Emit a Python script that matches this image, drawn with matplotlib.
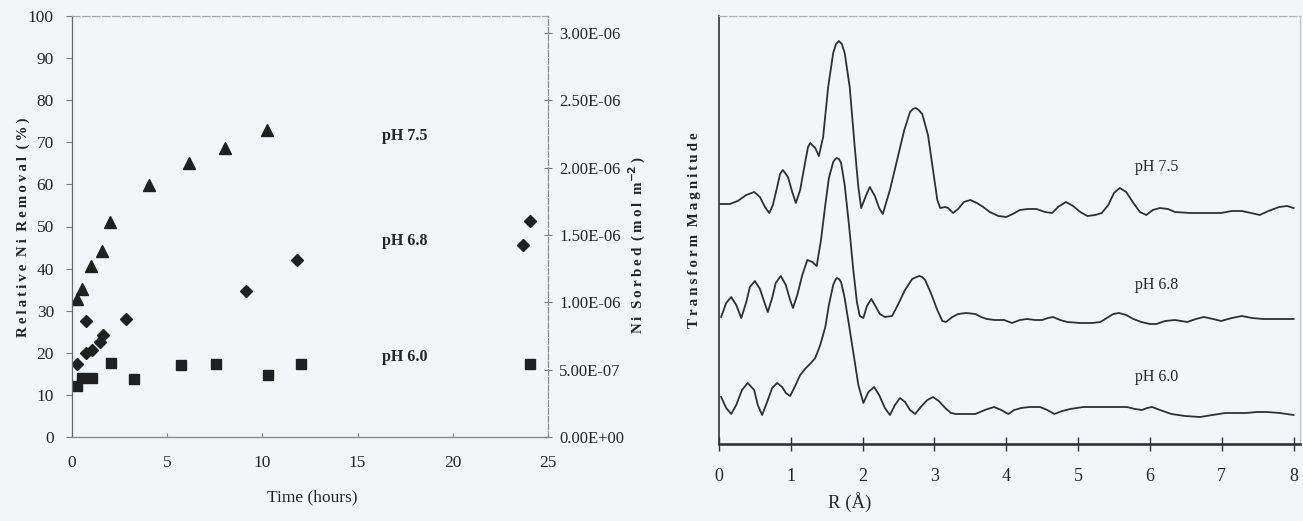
import matplotlib
matplotlib.use("Agg")
import matplotlib.pyplot as plt
from matplotlib.ticker import FormatStrFormatter

plt.rcParams['font.family'] = ['Liberation Serif', 'DejaVu Serif']

# ---------------- Left panel data (time in hours, relative Ni removal %) ----------------
t_ph75 = [0.27, 0.53, 1.0, 1.58, 2.0, 4.05, 6.15, 8.05, 10.25]
rem_ph75 = [32.8, 35.2, 40.6, 44.2, 51.1, 59.9, 65.1, 68.6, 72.9]

t_ph68 = [0.27, 0.72, 0.72, 1.05, 1.47, 1.65, 2.82, 9.15, 11.8, 23.7, 24.05]
rem_ph68 = [17.3, 27.6, 20.0, 20.7, 22.6, 24.2, 28.0, 34.7, 42.0, 45.6, 51.3]

t_ph60 = [0.27, 0.53, 1.05, 2.05, 3.26, 5.75, 7.58, 10.3, 12.05, 24.05]
rem_ph60 = [12.1, 14.0, 14.0, 17.6, 13.8, 17.1, 17.3, 14.7, 17.3, 17.3]

x_ticks_left = [0, 5, 10, 15, 20, 25]
y_ticks_left = [0, 10, 20, 30, 40, 50, 60, 70, 80, 90, 100]
y_ticks_right = [0, 5e-7, 1e-6, 1.5e-6, 2e-6, 2.5e-6, 3e-6]

# ---------------- Right panel data (R in Angstrom, transform magnitude, arb. units) ----------------
r_ph75 = [0.02, 0.15, 0.26, 0.38, 0.49, 0.57, 0.64, 0.70, 0.75, 0.81,
          0.85, 0.89, 0.96, 1.02, 1.07, 1.13, 1.20, 1.24, 1.27, 1.34, 1.39, 1.45,
          1.52, 1.59, 1.63, 1.67, 1.71, 1.75, 1.82, 1.89, 1.94, 1.98, 2.05, 2.10,
          2.17, 2.23, 2.28, 2.38, 2.48, 2.58, 2.66, 2.70, 2.74, 2.78, 2.83, 2.91,
          2.98, 3.04, 3.08, 3.15, 3.19, 3.26, 3.33, 3.41, 3.50, 3.59,
          3.68, 3.77, 3.89, 4.00, 4.09, 4.19, 4.30, 4.42, 4.54, 4.64,
          4.72, 4.83, 4.93, 5.03, 5.13, 5.24, 5.33, 5.42, 5.50, 5.58,
          5.67, 5.77, 5.86, 5.95, 6.04, 6.14, 6.25, 6.35, 6.56, 6.75,
          6.99, 7.14, 7.28, 7.41, 7.53, 7.65, 7.80, 7.91, 8.00]
m_ph75 = [240, 240, 243, 249, 252, 247, 237, 231, 239, 257,
          270, 274, 267, 252, 241, 254, 282, 297, 301, 296, 288, 307,
          357, 391, 400, 403, 400, 391, 357, 297, 257, 236, 249, 257,
          248, 236, 230, 254, 284, 314, 332, 335, 336, 334, 330, 309,
          274, 244, 236, 237, 236, 231, 235, 242, 244, 241,
          237, 232, 228, 227, 230, 234, 235, 235, 232, 231,
          237, 242, 238, 232, 228, 229, 231, 239, 251, 256,
          252, 241, 232, 229, 234, 236, 235, 232, 231, 231,
          231, 233, 233, 231, 229, 233, 237, 238, 236]

r_ph68 = [0.03, 0.10, 0.17, 0.24, 0.31, 0.38, 0.43, 0.50, 0.57, 0.64,
          0.68, 0.74, 0.79, 0.86, 0.93, 0.99, 1.03, 1.09, 1.16, 1.23,
          1.30, 1.36, 1.42, 1.48, 1.53, 1.59, 1.62, 1.64, 1.67, 1.70, 1.75, 1.81,
          1.87, 1.92, 1.96, 2.01, 2.06, 2.12, 2.17, 2.24, 2.31, 2.41,
          2.49, 2.59, 2.69, 2.75, 2.79, 2.83, 2.87, 2.95, 3.04, 3.11, 3.16, 3.25,
          3.33, 3.44, 3.57, 3.65, 3.73, 3.84, 3.97, 4.08, 4.19, 4.29,
          4.40, 4.50, 4.58, 4.65, 4.75, 4.85, 5.03, 5.20, 5.31, 5.40,
          5.49, 5.57, 5.67, 5.77, 5.88, 6.00, 6.09, 6.21, 6.35, 6.52,
          6.64, 6.75, 6.88, 6.99, 7.14, 7.28, 7.42, 7.58, 7.81, 8.00]
m_ph68 = [127, 141, 147, 139, 126, 142, 157, 163, 155, 140,
          132, 146, 161, 168, 159, 144, 136, 149, 169, 184,
          182, 178, 204, 239, 266, 282, 285, 286, 285, 281, 259, 219,
          174, 142, 128, 126, 138, 145, 139, 130, 127, 128,
          139, 154, 165, 167, 168, 167, 164, 151, 134, 123, 122, 127,
          130, 131, 130, 127, 125, 124, 124, 121, 124, 125,
          124, 124, 126, 127, 124, 122, 121, 121, 122, 126,
          130, 131, 129, 125, 122, 120, 120, 123, 124, 122,
          125, 127, 125, 123, 126, 128, 126, 125, 125, 125]

r_ph60 = [0.03, 0.10, 0.17, 0.24, 0.32, 0.40, 0.49, 0.54, 0.60, 0.67,
          0.74, 0.81, 0.88, 0.93, 0.99, 1.06, 1.13, 1.21, 1.28, 1.34,
          1.41, 1.48, 1.53, 1.59, 1.62, 1.64, 1.67, 1.70, 1.75, 1.81, 1.88, 1.94,
          2.01, 2.08, 2.16, 2.23, 2.31, 2.38, 2.45, 2.52, 2.59, 2.66,
          2.73, 2.81, 2.90, 2.98, 3.06, 3.15, 3.23, 3.30, 3.43, 3.57,
          3.70, 3.83, 3.93, 4.03, 4.11, 4.21, 4.33, 4.47, 4.57, 4.67,
          4.78, 4.89, 5.07, 5.24, 5.42, 5.56, 5.68, 5.79, 5.89, 5.96,
          6.03, 6.14, 6.30, 6.49, 6.70, 6.87, 7.05, 7.19, 7.34, 7.49,
          7.63, 7.81, 8.00]
m_ph60 = [47, 36, 30, 39, 54, 61, 54, 39, 29, 42,
          56, 61, 57, 51, 48, 58, 69, 76, 81, 86,
          99, 117, 139, 159, 164, 166, 165, 162, 146, 119, 87, 59,
          41, 52, 57, 49, 36, 29, 39, 46, 42, 34,
          30, 37, 44, 47, 43, 36, 31, 30, 30, 30,
          34, 37, 34, 30, 34, 36, 37, 37, 34, 30,
          33, 35, 37, 37, 37, 37, 37, 35, 34, 36,
          37, 34, 30, 28, 27, 29, 31, 31, 31, 32,
          32, 31, 29]

x_ticks_right = [0, 1, 2, 3, 4, 5, 6, 7, 8]

labels_ph = ['pH 7.5', 'pH 6.8', 'pH 6.0']

# ---------------- Styling ----------------
BG = '#f4f5f8'
INK = '#262626'


def spaced(s):
    return '\u2009'.join(s)


fig = plt.figure(figsize=(13.03, 5.21), dpi=100, facecolor=BG)

# ===== Left panel =====
ax1 = fig.add_axes([72 / 1303, 84 / 521, 476 / 1303, 421 / 521])
ax1.set_facecolor(BG)
mk = dict(linestyle='none', color='#202020', markeredgecolor='#202020')
ax1.plot(t_ph75, rem_ph75, marker='^', ms=9, **mk)
ax1.plot(t_ph68, rem_ph68, marker='D', ms=6.2, **mk)
ax1.plot(t_ph60, rem_ph60, marker='s', ms=7.5, **mk)
ax1.set_xlim(0, 25)
ax1.set_ylim(0, 100)
ax1.set_xticks(x_ticks_left)
ax1.set_yticks(y_ticks_left)
ax1.tick_params(axis='y', direction='out', length=4, width=0.8, color='#777',
                labelsize=12.5, labelcolor=INK, pad=9)
ax1.tick_params(axis='x', direction='in', length=3, width=0.8, color='#888',
                labelsize=12.5, labelcolor=INK, pad=13)
ax1.spines['left'].set_color('#6a6a6a')
ax1.spines['left'].set_linewidth(0.9)
ax1.spines['bottom'].set_color('#8a8a8a')
ax1.spines['bottom'].set_linewidth(1.0)
ax1.spines['top'].set_color('#a8a8a8')
ax1.spines['top'].set_linestyle((0, (6, 2)))
ax1.spines['top'].set_linewidth(0.9)
ax1.spines['right'].set_color('#8a8a8a')
ax1.spines['right'].set_linestyle((0, (5, 2)))
ax1.spines['right'].set_linewidth(0.8)

ax1.set_ylabel(spaced('Relative') + '  ' + spaced('Ni') + '  ' + spaced('Removal') + '  ' + spaced('(%)'),
               fontsize=10.8, fontweight='bold', color=INK)
ax1.yaxis.set_label_coords(-0.088, 0.499)
ax1.set_xlabel('Time (hours)', fontsize=12.5, color=INK)
ax1.xaxis.set_label_coords(0.504, -0.1235)

ax1.text(17.47, 71.5, labels_ph[0], fontsize=11.5, fontweight='bold', color=INK, ha='center', va='center')
ax1.text(17.47, 46.6, labels_ph[1], fontsize=11.5, fontweight='bold', color=INK, ha='center', va='center')
ax1.text(17.47, 19.0, labels_ph[2], fontsize=11.5, fontweight='bold', color=INK, ha='center', va='center')

ax2 = ax1.twinx()
ax2.set_ylim(0, 3.0e-6 * 421 / 404)
ax2.set_yticks(y_ticks_right)
ax2.yaxis.set_major_formatter(FormatStrFormatter('%.2E'))
ax2.tick_params(axis='y', direction='inout', length=6, width=0.8, color='#777',
                labelsize=12, labelcolor=INK, pad=5)
for sp in ['left', 'top', 'bottom']:
    ax2.spines[sp].set_visible(False)
ax2.spines['right'].set_color('#8a8a8a')
ax2.spines['right'].set_linestyle((0, (5, 2)))
ax2.spines['right'].set_linewidth(0.8)
ax2.set_ylabel(spaced('Ni') + '  ' + spaced('Sorbed') + '  ' + spaced('(mol') + '  ' + spaced('m') + r'$^{\mathbf{-2}}$' + '\u2009)',
               fontsize=10.8, fontweight='bold', color=INK)
ax2.yaxis.set_label_coords(1.166, 0.456)

# ===== Right panel =====
ax3 = fig.add_axes([719 / 1303, 77 / 521, 581 / 1303, 428 / 521])
ax3.set_facecolor(BG)
lc = '#303030'
ax3.plot(r_ph75, m_ph75, color=lc, lw=1.3, solid_joinstyle='round')
ax3.plot(r_ph68, m_ph68, color=lc, lw=1.3, solid_joinstyle='round')
ax3.plot(r_ph60, m_ph60, color=lc, lw=1.3, solid_joinstyle='round')
ax3.set_xlim(0, 8.09)
ax3.set_ylim(0, 428)
ax3.set_xticks(x_ticks_right)
ax3.set_yticks([])
ax3.tick_params(axis='x', direction='inout', length=10, width=1.0, color='#333',
                labelsize=13, labelcolor=INK, pad=12)
ax3.spines['left'].set_color('#333')
ax3.spines['left'].set_linewidth(1.2)
ax3.spines['bottom'].set_color('#333')
ax3.spines['bottom'].set_linewidth(1.9)
ax3.spines['top'].set_color('#b5b5b5')
ax3.spines['top'].set_linestyle((0, (6, 2)))
ax3.spines['top'].set_linewidth(0.9)
ax3.spines['right'].set_color('#c5c5c5')
ax3.spines['right'].set_linewidth(0.9)

ax3.set_ylabel(spaced('Transform') + '  ' + spaced('Magnitude'), fontsize=10.8, fontweight='bold', color=INK)
ax3.yaxis.set_label_coords(-0.031, 0.5)
ax3.set_xlabel('R (\u00c5)', fontsize=13.5, color=INK)
ax3.xaxis.set_label_coords(0.2255, -0.112)

ax3.text(6.09, 277, labels_ph[0], fontsize=11.5, color=INK, ha='center', va='center')
ax3.text(6.09, 159, labels_ph[1], fontsize=11.5, color=INK, ha='center', va='center')
ax3.text(6.09, 67, labels_ph[2], fontsize=11.5, color=INK, ha='center', va='center')

fig.savefig('out.png', dpi=100, facecolor=BG)
